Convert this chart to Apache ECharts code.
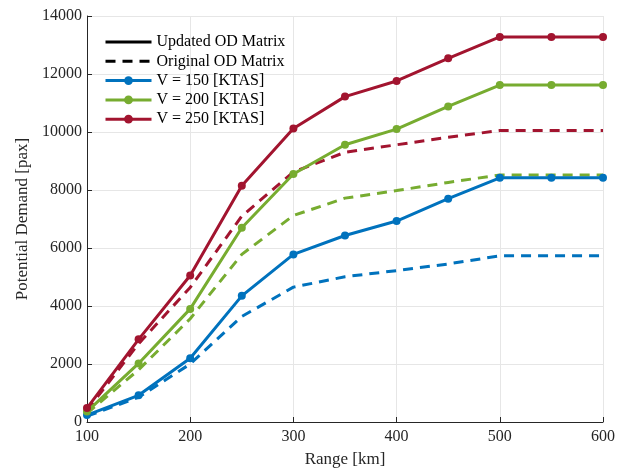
<!DOCTYPE html>
<html>
<head>
<meta charset="utf-8">
<script src="https://cdn.jsdelivr.net/npm/echarts@6/dist/echarts.min.js"></script>
<style>
html, body { margin: 0; padding: 0; background: #fff; }
#chart { width: 644px; height: 473px; }
</style>
</head>
<body>
<div id="chart"></div>
<script>
// range points (km)
var ranges = [100, 150, 200, 250, 300, 350, 400, 450, 500, 550, 600]

// updated OD matrix (solid lines)
var upd150 = [240, 920, 2200, 4350, 5780, 6430, 6930, 7700, 8420, 8420, 8420]
var upd200 = [360, 2020, 3900, 6700, 8550, 9560, 10100, 10880, 11620, 11620, 11620]
var upd250 = [480, 2850, 5050, 8150, 10120, 11220, 11760, 12540, 13280, 13280, 13280]

// original OD matrix (dashed lines)
var orig150 = [200, 850, 2000, 3640, 4650, 5010, 5220, 5450, 5730, 5730, 5730]
var orig200 = [300, 1800, 3560, 5780, 7120, 7720, 7980, 8260, 8520, 8520, 8520]
var orig250 = [400, 2700, 4640, 7100, 8620, 9300, 9560, 9820, 10050, 10050, 10050]

var yTicks = [0, 2000, 4000, 6000, 8000, 10000, 12000, 14000]

var colors = { v150: '#0072BD', v200: '#77AC30', v250: '#A2142F' }
var font = 'Liberation Serif'

function pairs(ys) {
	return ranges.map(function (x, i) { return [x, ys[i]] })
}

function solid(name, ys, color) {
	return {
		name: name,
		type: 'line',
		data: pairs(ys),
		symbol: 'circle',
		symbolSize: 8,
		color: color,
		lineStyle: { width: 3, color: color },
		itemStyle: { color: color },
		z: 3,
	}
}

function dashed(name, ys, color) {
	return {
		name: name,
		type: 'line',
		data: pairs(ys),
		symbol: 'none',
		color: color,
		lineStyle: { width: 3, color: color, type: [10, 7] },
		z: 2,
	}
}

var chart = echarts.init(document.getElementById('chart'))
chart.setOption({
	animation: false,
	textStyle: { fontFamily: font },
	grid: { left: 87, right: 41, top: 16, bottom: 49 },
	legend: {
		left: 99,
		top: 29,
		orient: 'vertical',
		itemWidth: 46,
		itemHeight: 11,
		itemGap: 3.3,
		lineStyle: { width: 3 },
		textStyle: { fontFamily: font, fontSize: 16, color: '#000' },
		data: [
			{ name: 'Updated OD Matrix', itemStyle: { opacity: 0 } },
			{ name: 'Original OD Matrix', itemStyle: { opacity: 0 } },
			'V = 150 [KTAS]', 'V = 200 [KTAS]', 'V = 250 [KTAS]',
		],
	},
	xAxis: {
		type: 'value',
		min: 100,
		max: 600,
		interval: 100,
		name: 'Range [km]',
		nameLocation: 'middle',
		nameGap: 29,
		nameTextStyle: { fontFamily: font, fontSize: 17, color: '#262626' },
		axisLine: { lineStyle: { color: '#262626', width: 1 } },
		axisTick: { inside: true, length: 5, lineStyle: { color: '#262626' } },
		axisLabel: { fontFamily: font, fontSize: 16, color: '#262626', margin: 7 },
		splitLine: { show: true, lineStyle: { color: '#e6e6e6', width: 1 } },
	},
	yAxis: {
		type: 'value',
		min: yTicks[0],
		max: yTicks[yTicks.length - 1],
		interval: 2000,
		name: 'Potential Demand [pax]',
		nameLocation: 'middle',
		nameGap: 55,
		nameTextStyle: { fontFamily: font, fontSize: 17, color: '#262626' },
		axisLine: { show: true, lineStyle: { color: '#262626', width: 1 } },
		axisTick: { show: true, inside: true, length: 5, lineStyle: { color: '#262626' } },
		axisLabel: {
			fontFamily: font, fontSize: 16, color: '#262626', margin: 5,
			formatter: function (v) { return String(v) },
		},
		splitLine: { show: true, lineStyle: { color: '#e6e6e6', width: 1 } },
	},
	series: [
		// legend-only entries for line styles
		{ name: 'Updated OD Matrix', type: 'line', data: [], symbol: 'none', color: '#000', lineStyle: { width: 3, color: '#000' } },
		{ name: 'Original OD Matrix', type: 'line', data: [], symbol: 'none', color: '#000', lineStyle: { width: 3, color: '#000', type: [10, 7] } },
		dashed('orig 150', orig150, colors.v150),
		dashed('orig 200', orig200, colors.v200),
		dashed('orig 250', orig250, colors.v250),
		solid('V = 150 [KTAS]', upd150, colors.v150),
		solid('V = 200 [KTAS]', upd200, colors.v200),
		solid('V = 250 [KTAS]', upd250, colors.v250),
	],
})
</script>
</body>
</html>
